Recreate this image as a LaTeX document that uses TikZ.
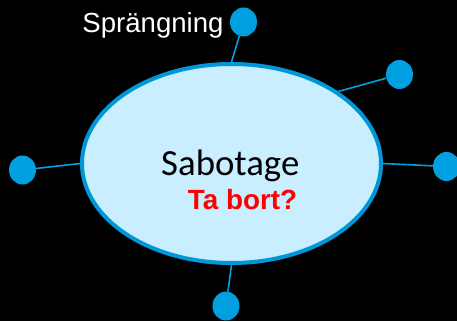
\documentclass[tikz,border=0pt]{standalone}
\usepackage{fontspec}
\setmainfont{Liberation Sans}
\newfontfamily\calibri{Carlito}
\usetikzlibrary{shapes.geometric,backgrounds}

\definecolor{dotblue}{HTML}{009FDF}
\definecolor{rimblue}{HTML}{0096D8}
\definecolor{paleblue}{HTML}{C8EEFF}
\definecolor{alertred}{HTML}{FF0000}

\tikzset{
  hub/.style={ellipse, draw=rimblue, line width=4pt, fill=paleblue,
    minimum width=299pt, minimum height=199pt, inner sep=0pt},
  leaf/.style={ellipse, fill=dotblue, minimum width=27pt,
    minimum height=29pt, inner sep=0pt},
  spoke/.style={draw=dotblue, line width=1.6pt},
}

\begin{document}
\begin{tikzpicture}[x=1pt,y=-1pt]
            \useasboundingbox (0,0) rectangle (457,321);

            \node[hub] (sab) at (231.5,163.5) {};

            \node[leaf] (top) at (243.5,22) {};
            \node[leaf] (ne) at (399.5,74.5) {};
            \node[leaf] (west) at (22.5,170) {};
            \node[leaf] (east) at (446.5,166.5) {};
            \node[leaf] (south) at (226,306) {};

            \begin{scope}[on background layer]
              \fill[black] (0,0) rectangle (457,321);
              \draw[spoke] (sab.90) -- (top);
              \draw[spoke] (sab.34) -- (ne);
              \draw[spoke] (sab.180) -- (west);
              \draw[spoke] (sab.0) -- (east);
              \draw[spoke] (sab.270) -- (south);
            \end{scope}

            \node[anchor=base, text=white, inner sep=0pt,
              font=\fontsize{27.6}{30}\selectfont] (lbl) at (153,32.5) {Sprängning};
            \node[anchor=base, inner sep=0pt,
              font=\calibri\fontsize{36.8}{40}\selectfont] (name) at (230.3,175.7) {Sabotage};
            \node[anchor=base, text=alertred, inner sep=0pt,
              font=\bfseries\fontsize{27.8}{30}\selectfont] (note) at (242.5,209.3) {Ta bort?};
\end{tikzpicture}
\end{document}
